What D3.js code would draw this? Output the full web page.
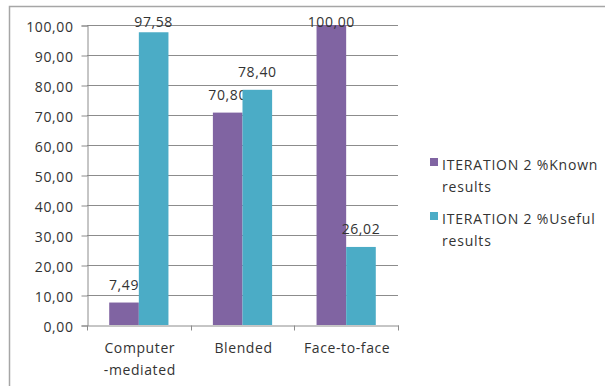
<!DOCTYPE html>
<html>
<head>
<meta charset="utf-8">
<script src="https://cdn.jsdelivr.net/npm/d3@7"></script>
<style>
  html, body { margin: 0; padding: 0; background: #fff; }
  svg { display: block; }
  text { font-family: "Open Sans", "DejaVu Sans", sans-serif; fill: #333; }
</style>
</head>
<body>
<svg id="chart" width="605" height="386"></svg>
<script>
// Chart data
const categories = ["Computer\n-mediated", "Blended", "Face-to-face"];
const seriesNames = ["ITERATION 2 %Known results", "ITERATION 2 %Useful results"];
const legendLines = [["ITERATION 2 %Known", "results"], ["ITERATION 2 %Useful", "results"]];
const knownValues = [7.49, 70.80, 100.00];
const usefulValues = [97.58, 78.40, 26.02];
const yTicks = [0, 10, 20, 30, 40, 50, 60, 70, 80, 90, 100];
const colors = ["#8064A2", "#4BACC6"];

const fmt = v => d3.format(".2f")(v).replace(".", ",");

const svg = d3.select("#chart");
const plot = { left: 87, right: 398, top: 25, bottom: 325 };

// Outer chart border
svg.append("rect")
  .attr("x", 9.5).attr("y", 6.5)
  .attr("width", 620).attr("height", 420)
  .attr("fill", "none").attr("stroke", "#a6a6a6").attr("stroke-width", 1.5);

const x = d3.scaleBand().domain(d3.range(categories.length))
  .range([plot.left, plot.right]).paddingInner(0).paddingOuter(0);
const y = d3.scaleLinear().domain([0, 100]).range([plot.bottom, plot.top]);

// Grid lines
svg.append("g").selectAll("line").data(yTicks.filter(t => t > 0)).join("line")
  .attr("x1", plot.left).attr("x2", plot.right)
  .attr("y1", d => Math.round(y(d)) + 0.5).attr("y2", d => Math.round(y(d)) + 0.5)
  .attr("stroke", "#8c8c8c").attr("stroke-width", 1);

// Y axis
const yAxis = svg.append("g").attr("transform", `translate(${plot.left + 0.5},0.5)`)
  .call(d3.axisLeft(y).tickValues(yTicks).tickFormat(fmt).tickSize(6).tickPadding(8));
yAxis.select(".domain").attr("stroke", "#8c8c8c");
yAxis.selectAll(".tick line").attr("stroke", "#8c8c8c");
yAxis.selectAll(".tick text")
  .attr("font-size", 14).attr("letter-spacing", "0.6px")
  .attr("fill", "#333").attr("dy", "0.45em");

// X axis
const xAxis = svg.append("g").attr("transform", `translate(0.5,${plot.bottom + 0.5})`)
  .call(d3.axisBottom(x).tickSize(0).tickFormat(""));
xAxis.select(".domain").attr("stroke", "#8c8c8c");
xAxis.selectAll(".tick").remove();
const catEdges = d3.range(categories.length + 1).map(i => plot.left + i * x.bandwidth());
xAxis.selectAll("line.cat").data(catEdges).join("line").attr("class", "cat")
  .attr("x1", d => Math.round(d)).attr("x2", d => Math.round(d))
  .attr("y1", 0).attr("y2", 5).attr("stroke", "#8c8c8c");

// Category labels
svg.append("g").selectAll("text").data(categories).join("text")
  .attr("text-anchor", "middle").attr("font-size", 14).attr("letter-spacing", "0.6px")
  .each(function (d, i) {
    const t = d3.select(this);
    d.split("\n").forEach((line, j) => {
      t.append("tspan").attr("x", x(i) + x.bandwidth() / 2 + 1)
        .attr("y", 353 + j * 22).text(line);
    });
  });

// Bars (gap width 150% between groups)
const inner = d3.scaleBand().domain([0, 1]).range([0, x.bandwidth()])
  .paddingInner(0).paddingOuter(0.75);
const series = [knownValues, usefulValues];
series.forEach((vals, s) => {
  const g = svg.append("g");
  g.selectAll("rect").data(vals).join("rect")
    .attr("x", (d, i) => x(i) + inner(s))
    .attr("y", d => y(d))
    .attr("width", inner.bandwidth())
    .attr("height", d => y(0) - y(d))
    .attr("fill", colors[s]);
  g.selectAll("text").data(vals).join("text")
    .attr("x", (d, i) => x(i) + inner(s) + inner.bandwidth() / 2)
    .attr("y", d => Math.max(y(d) - 13, plot.top + 2))
    .attr("text-anchor", "middle").attr("font-size", 14).attr("letter-spacing", "0.6px")
    .text(d => fmt(d));
});

// Legend
const legend = svg.append("g");
const legendY = [158, 212];
legendLines.forEach((lines, s) => {
  legend.append("rect").attr("x", 430).attr("y", legendY[s])
    .attr("width", 8).attr("height", 8).attr("fill", colors[s]);
  const t = legend.append("text").attr("font-size", 14).attr("letter-spacing", "0.8px");
  lines.forEach((line, j) => {
    t.append("tspan").attr("x", 442).attr("y", legendY[s] + 12 + j * 22).text(line);
  });
});
</script>
</body>
</html>
